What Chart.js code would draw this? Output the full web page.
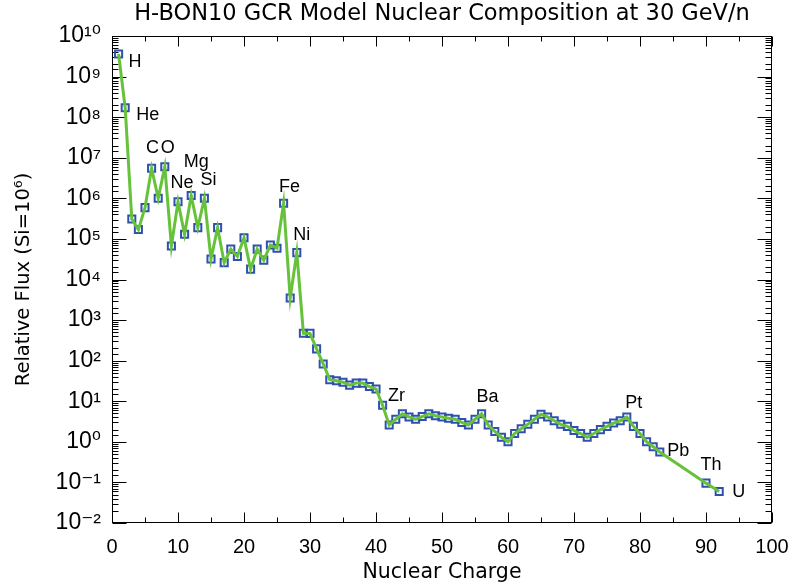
<!DOCTYPE html>
<html><head><meta charset="utf-8">
<script src="https://cdn.jsdelivr.net/npm/chart.js@4.4.0/dist/chart.umd.min.js"></script>
<style>html,body{margin:0;padding:0;background:#fff}#wrap{width:792px;height:585px}</style>
</head><body><div id="wrap"><canvas id="c" width="792" height="585"></canvas></div>
<script>
// ---- data ----
const charges = [1,2,3,4,5,6,7,8,9,10,11,12,13,14,15,16,17,18,19,20,21,22,23,24,25,26,27,28,29,30,
  31,32,33,34,35,36,37,38,39,40,41,42,43,44,45,46,47,48,49,50,51,52,53,54,55,56,57,58,59,60,
  61,62,63,64,65,66,67,68,69,70,71,72,73,74,75,76,77,78,79,80,81,82,83,90,92];
const flux = [3.6e9,1.7e8,3.1e5,1.7e5,5.9e5,5.5e6,1.0e6,6.0e6,6.7e4,8.2e5,1.3e5,1.17e6,1.9e5,1.0e6,3.2e4,1.9e5,2.6e4,5.6e4,3.7e4,1.07e5,
  1.8e4,5.6e4,3.0e4,7.1e4,5.9e4,7.6e5,3.5e3,4.6e4,475,470,
  195,83,34,32,29.5,25,28,28,23,20,8.0,2.6,3.6,4.9,4.1,3.6,4.2,4.9,4.4,4.1,3.8,3.6,3.0,2.6,3.6,4.9,2.6,1.8,1.3,1.0,
  1.6,2.1,2.7,3.6,4.8,4.1,3.3,2.7,2.4,1.9,1.6,1.3,1.6,2.0,2.4,2.9,3.3,4.1,2.4,1.6,1.0,0.76,0.56,0.096,0.06];
const elementNames = ['H','He','C','O','Ne','Mg','Si','Fe','Ni','Zr','Ba','Pt','Pb','Th','U'];
const elementCharges = [1,2,6,8,10,12,14,26,28,40,56,78,82,90,92];
const xTickLabels = ['0','10','20','30','40','50','60','70','80','90','100'];
const yTickExponents = [-2,-1,0,1,2,3,4,5,6,7,8,9,10];
const yTickLabels = ['10\u207B\u00B2','10\u207B\u00B9','10\u2070','10\u00B9','10\u00B2','10\u00B3','10\u2074','10\u2075','10\u2076','10\u2077','10\u2078','10\u2079','10\u00B9\u2070'];
const titleText = 'H-BON10 GCR Model Nuclear Composition at 30 GeV/n';
const xTitle = 'Nuclear Charge';
const yTitle = 'Relative Flux (Si=10\u2076)';

// ---- styling ----
const FONT = "'Liberation Sans', 'DejaVu Sans', sans-serif";
const WFONT = "'DejaVu Sans', 'Liberation Sans', sans-serif";
const labelStyle = { // pixel offsets of element labels from their points
  H:[10,8,'left'], He:[11,7,'left'], C:[1,-20,'center'], O:[3,-19,'center'], Ne:[4,-19,'center'],
  Mg:[5,-34,'center'], Si:[4,-18,'center'], Fe:[6,-16,'center'], Ni:[5,-18,'center'],
  Zr:[12,7,'left'], Ba:[6,-17,'center'], Pt:[7,-14,'center'], Pb:[14,4,'left'],
  Th:[5,-18,'center'], U:[13,1,'left']
};

const points = charges.map((z,i)=>({x:z,y:flux[i]}));

function isPow10(v){ const l=Math.log10(v); return Math.abs(l-Math.round(l))<1e-6; }

const framePlugin = {
  id:'frame',
  beforeDatasetsDraw(chart){
    const ctx=chart.ctx, a=chart.chartArea, xs=chart.scales.x, ys=chart.scales.y;
    ctx.save(); ctx.strokeStyle='#000'; ctx.lineWidth=1;
    const L=Math.round(a.left)+0.5, R=Math.round(a.right)-0.5, T=Math.round(a.top)+0.5, B=Math.round(a.bottom)-0.5;
    ctx.strokeRect(L,T,R-L,B-T);
    ctx.beginPath();
    ys.ticks.forEach(t=>{
      const p=Math.round(ys.getPixelForValue(t.value))+0.5;
      if(p<a.top-0.5||p>a.bottom+0.5) return;
      const len=isPow10(t.value)?14:6;
      ctx.moveTo(L,p); ctx.lineTo(L+len,p);
      ctx.moveTo(R,p); ctx.lineTo(R-len,p);
    });
    xs.ticks.forEach(t=>{
      const p=Math.round(xs.getPixelForValue(t.value))+0.5;
      const len=(t.value%10===0)?10:5;
      ctx.moveTo(p,B); ctx.lineTo(p,B-len);
      ctx.moveTo(p,T); ctx.lineTo(p,T+len);
    });
    ctx.stroke();
    // title centred over the plot box
    ctx.fillStyle='#000'; ctx.font="22.5px "+WFONT; ctx.textAlign='center'; ctx.textBaseline='middle';
    ctx.fillText(titleText,(a.left+a.right)/2,14);
    ctx.restore();
  },
  afterDatasetsDraw(chart){
    const ctx=chart.ctx, xs=chart.scales.x, ys=chart.scales.y;
    ctx.save(); ctx.fillStyle='#000'; ctx.font="18px "+FONT; ctx.textBaseline='middle';
    elementNames.forEach((n,i)=>{
      const z=elementCharges[i]; const idx=charges.indexOf(z);
      const px=xs.getPixelForValue(z), py=ys.getPixelForValue(flux[idx]);
      const s=labelStyle[n];
      ctx.textAlign=s[2];
      ctx.fillText(n, px+s[0], py+s[1]);
    });
    ctx.restore();
  }
};

new Chart(document.getElementById('c'),{
  type:'line',
  data:{datasets:[
    {data:points, borderColor:'rgb(102,194,58)', borderWidth:3, pointRadius:0, fill:false, tension:0, order:1},
    {data:points, showLine:false, pointStyle:'rect', pointRadius:5, pointBorderWidth:2,
     pointBorderColor:'rgb(48,80,176)', pointBackgroundColor:'rgba(255,255,255,0)', order:2}
  ]},
  options:{
    responsive:false, animation:false, devicePixelRatio:1,
    layout:{padding:{left:0,right:20,top:36,bottom:0}},
    plugins:{
      legend:{display:false}, tooltip:{enabled:false}, title:{display:false}
    },
    scales:{
      x:{type:'linear', min:0, max:100,
        grid:{display:false, drawTicks:false}, border:{display:false},
        ticks:{stepSize:5, autoSkip:false, maxRotation:0, padding:12, color:'#000', font:{family:FONT,size:20},
          callback:v=> (v%10===0)? xTickLabels[v/10] : ''},
        title:{display:true, text:xTitle, color:'#000', font:{family:WFONT,size:20.5}, padding:{top:0,bottom:0}},
        afterFit:s=>{s.height=62; s.paddingLeft=0; s.paddingRight=0;}
      },
      y:{type:'logarithmic', min:1e-2, max:1e10,
        grid:{display:false, drawTicks:false}, border:{display:false},
        ticks:{autoSkip:false, padding:11, color:'#000', font:{family:FONT,size:23},
          callback:v=>{ if(!isPow10(v)) return ''; const e=Math.round(Math.log10(v)); const k=yTickExponents.indexOf(e); return k>=0?yTickLabels[k]:''; }},
        title:{display:true, text:yTitle, color:'#000', font:{family:WFONT,size:19.5}, padding:{top:12,bottom:0}},
        afterFit:s=>{s.width=112; s.paddingTop=0; s.paddingBottom=0;}
      }
    }
  },
  plugins:[framePlugin]
});
</script></body></html>
